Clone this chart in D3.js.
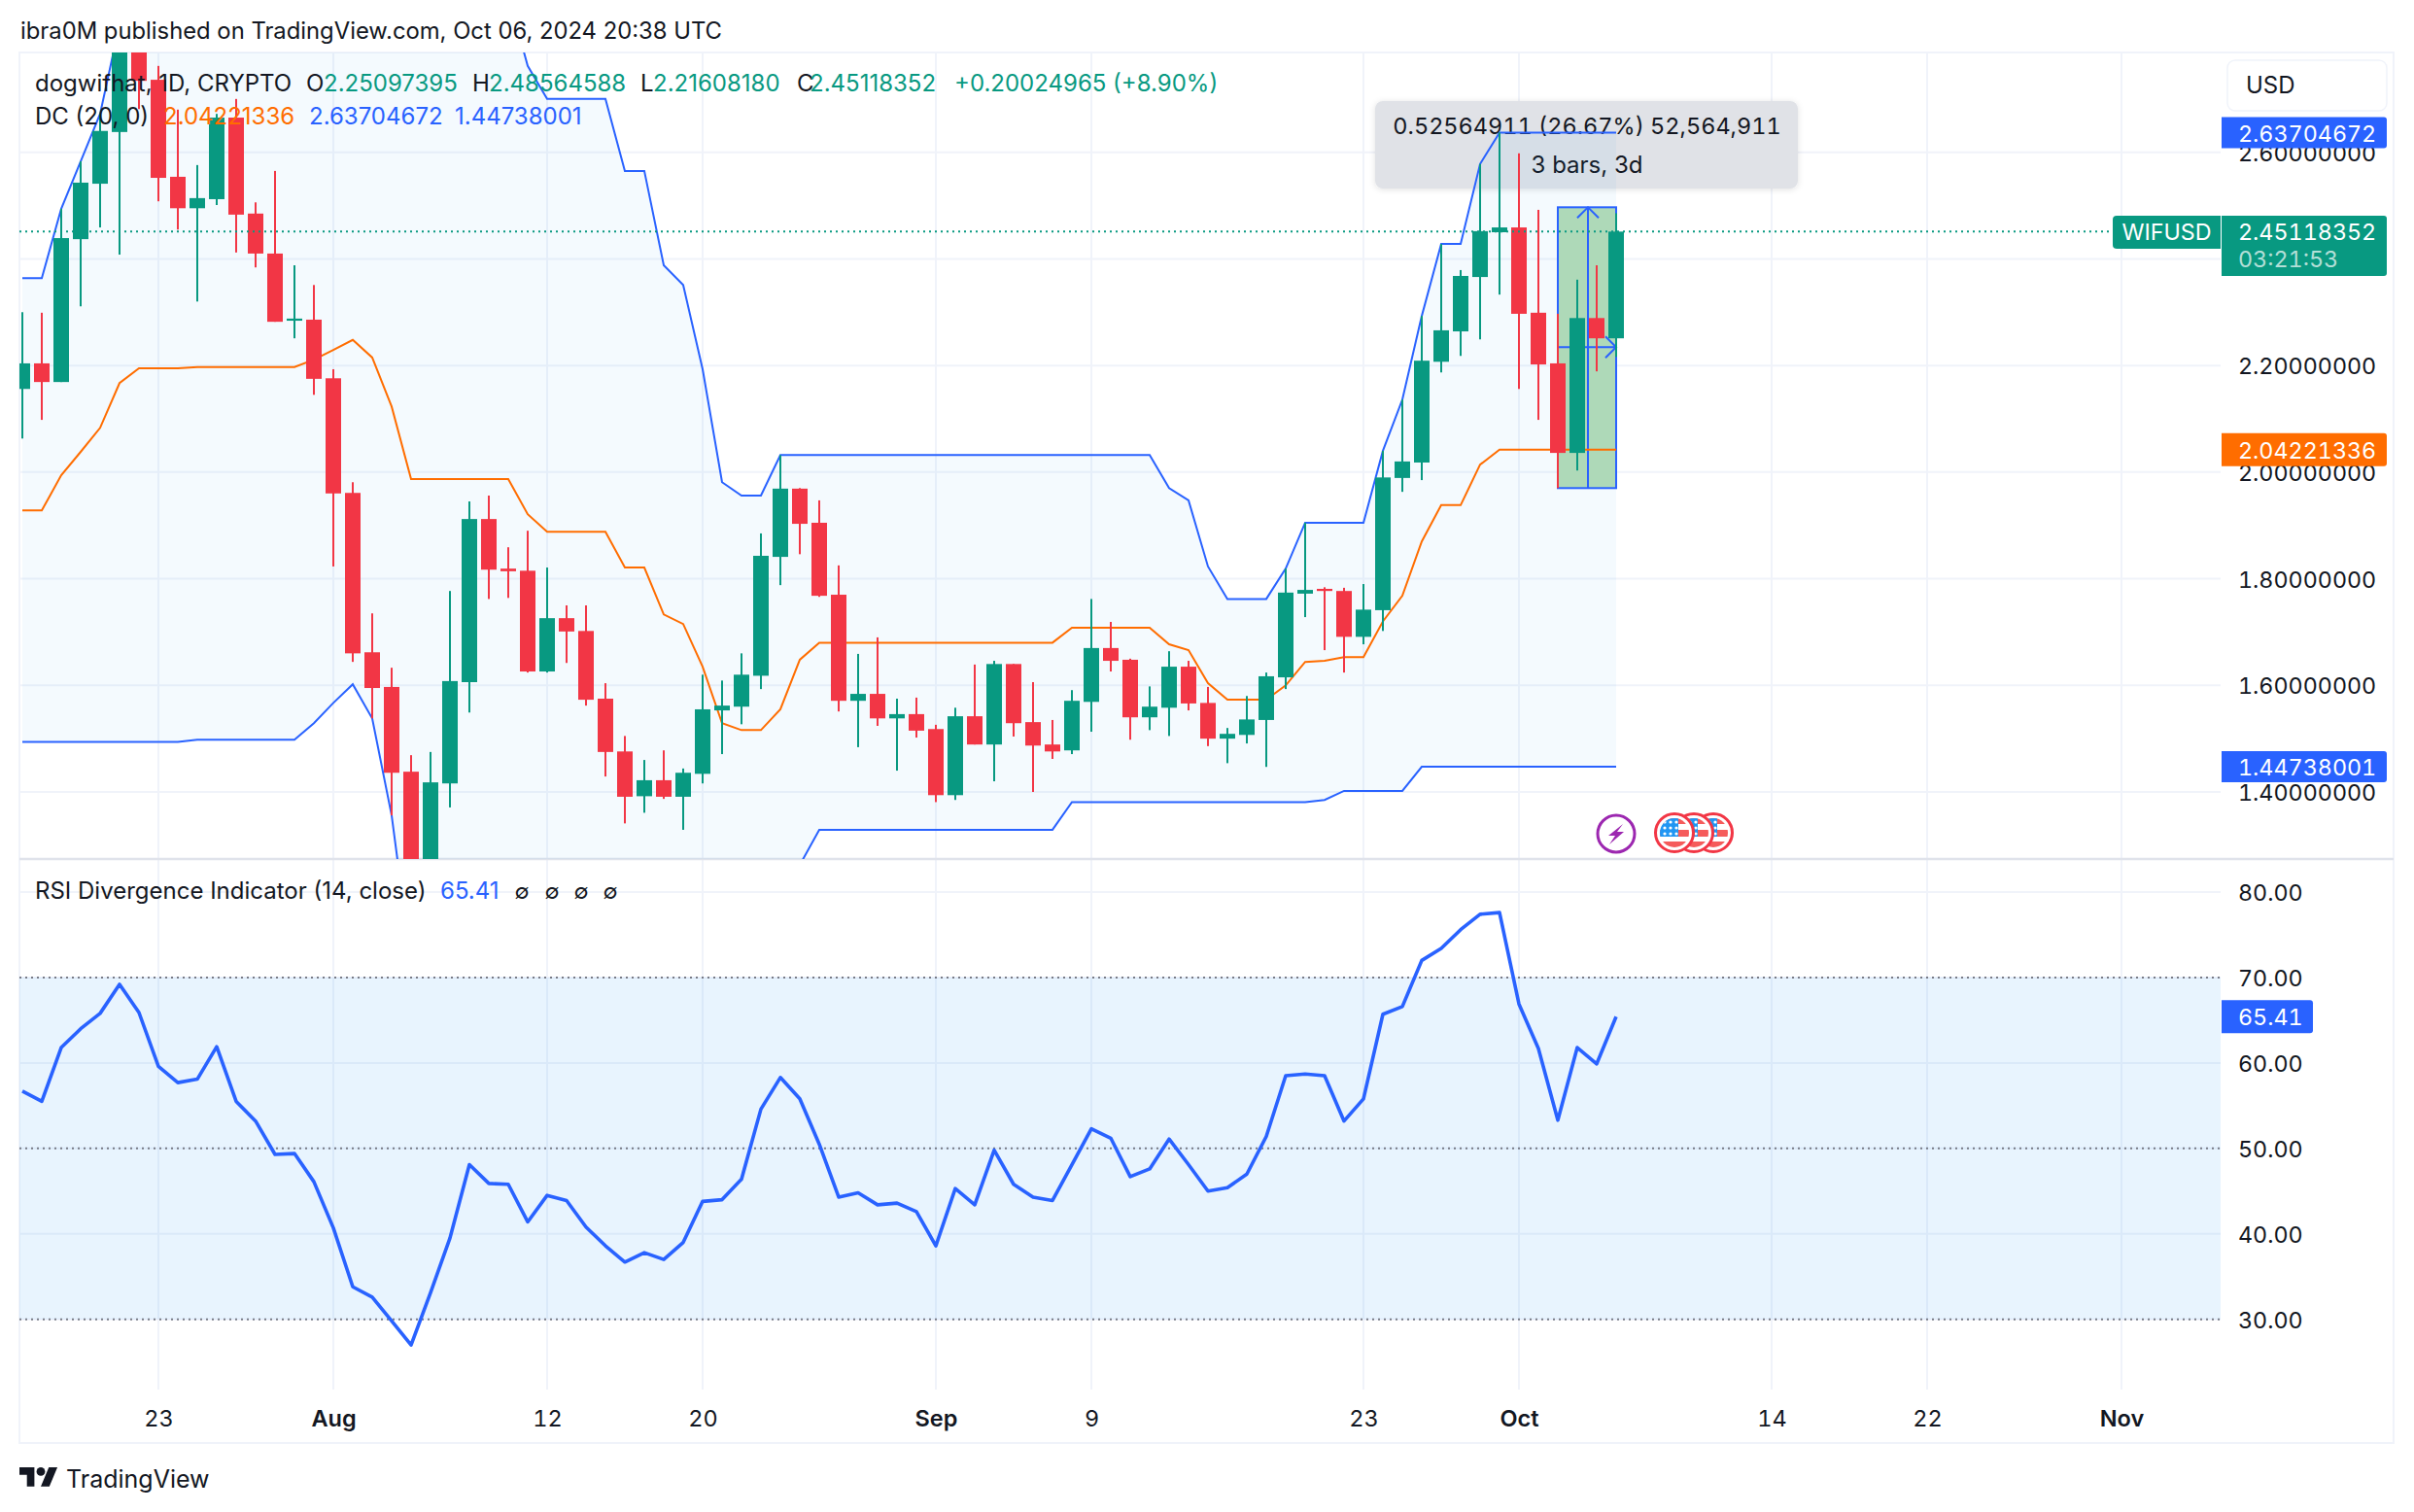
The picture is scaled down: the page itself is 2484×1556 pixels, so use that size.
<!DOCTYPE html>
<html>
<head>
<meta charset="utf-8">
<title>WIFUSD</title>
<script src="https://cdnjs.cloudflare.com/ajax/libs/d3/7.8.5/d3.min.js"></script>
<style>
  html, body { margin: 0; padding: 0; background: #fff; }
  svg { display: block; }
  text { font-family: Inter, "Noto Sans", sans-serif; fill: #131722; }
  .tnum { font-variant-numeric: tabular-nums; }
</style>
</head>
<body>
<svg id="chart"></svg>
<script>
// daily candles, 16 Jul 2024 -> 6 Oct 2024
const open = [2.156,2.204,2.169,2.437,2.541,2.638,2.831,2.736,2.554,2.495,2.512,2.665,2.485,2.410,2.284,2.286,2.176,1.961,1.662,1.597,1.438,1.270,1.416,1.606,1.912,1.819,1.815,1.626,1.726,1.702,1.575,1.476,1.392,1.422,1.391,1.434,1.553,1.560,1.618,1.841,1.969,1.905,1.770,1.571,1.584,1.538,1.546,1.518,1.394,1.542,1.489,1.640,1.531,1.489,1.478,1.569,1.670,1.648,1.540,1.558,1.635,1.567,1.500,1.507,1.535,1.615,1.772,1.781,1.777,1.691,1.741,1.989,2.018,2.207,2.264,2.366,2.450,2.459,2.299,2.204,2.036,2.289,2.25097395]
const high = [2.300,2.299,2.494,2.583,2.672,2.840,2.895,2.762,2.680,2.576,2.672,2.700,2.506,2.565,2.388,2.351,2.193,1.981,1.735,1.633,1.469,1.475,1.777,1.945,1.956,1.859,1.890,1.821,1.750,1.750,1.604,1.505,1.460,1.478,1.444,1.620,1.609,1.660,1.885,2.032,1.970,1.947,1.825,1.659,1.690,1.575,1.577,1.526,1.558,1.639,1.646,1.640,1.606,1.535,1.591,1.762,1.719,1.650,1.598,1.664,1.646,1.597,1.520,1.580,1.624,1.819,1.905,1.784,1.783,1.790,2.040,2.136,2.293,2.428,2.379,2.578,2.637,2.598,2.492,2.297,2.361,2.388,2.48564588]
const low = [2.063,2.098,2.169,2.311,2.459,2.408,2.681,2.508,2.455,2.320,2.501,2.412,2.384,2.282,2.251,2.145,1.823,1.644,1.538,1.356,1.079,1.263,1.371,1.549,1.762,1.764,1.624,1.624,1.642,1.562,1.429,1.341,1.361,1.387,1.329,1.416,1.471,1.527,1.593,1.788,1.846,1.766,1.551,1.484,1.524,1.440,1.502,1.381,1.385,1.489,1.420,1.504,1.400,1.462,1.471,1.513,1.626,1.498,1.516,1.505,1.553,1.486,1.454,1.491,1.447,1.593,1.728,1.666,1.624,1.677,1.702,1.963,1.985,2.187,2.218,2.249,2.333,2.156,2.098,1.970,2.003,2.189,2.2160818]
const close = [2.204,2.169,2.439,2.543,2.640,2.831,2.734,2.552,2.495,2.514,2.665,2.483,2.410,2.282,2.288,2.175,1.960,1.660,1.595,1.436,1.270,1.418,1.608,1.912,1.817,1.814,1.626,1.726,1.701,1.573,1.475,1.391,1.422,1.391,1.436,1.555,1.562,1.620,1.843,1.969,1.903,1.768,1.571,1.584,1.538,1.546,1.515,1.394,1.542,1.489,1.640,1.529,1.487,1.476,1.571,1.670,1.646,1.540,1.560,1.635,1.566,1.500,1.509,1.536,1.617,1.774,1.779,1.777,1.691,1.742,1.990,2.020,2.209,2.266,2.368,2.452,2.459,2.297,2.202,2.036,2.289,2.25097395,2.45118352]

// donchian channel, same length as the candles
const dcUpper = [2.364,2.364,2.494,2.583,2.672,2.840,2.895,2.895,2.895,2.895,2.895,2.895,2.895,2.895,2.895,2.895,2.895,2.895,2.895,2.895,2.895,2.895,2.895,2.895,2.895,2.895,2.762,2.700,2.700,2.700,2.700,2.565,2.565,2.388,2.351,2.193,1.981,1.956,1.956,2.032,2.032,2.032,2.032,2.032,2.032,2.032,2.032,2.032,2.032,2.032,2.032,2.032,2.032,2.032,2.032,2.032,2.032,2.032,2.032,1.970,1.947,1.823,1.762,1.762,1.762,1.819,1.905,1.905,1.905,1.905,2.040,2.136,2.293,2.428,2.428,2.578,2.63704672,2.63704672,2.63704672,2.63704672,2.63704672,2.63704672,2.63704672]
const dcLower = [1.494,1.494,1.494,1.494,1.494,1.494,1.494,1.494,1.494,1.498,1.498,1.498,1.498,1.498,1.498,1.529,1.567,1.602,1.538,1.356,1.079,1.079,1.079,1.079,1.079,1.079,1.079,1.079,1.079,1.079,1.079,1.079,1.079,1.079,1.079,1.079,1.079,1.079,1.079,1.079,1.263,1.329,1.329,1.329,1.329,1.329,1.329,1.329,1.329,1.329,1.329,1.329,1.329,1.329,1.381,1.381,1.381,1.381,1.381,1.381,1.381,1.381,1.381,1.381,1.381,1.381,1.381,1.385,1.402,1.402,1.402,1.402,1.44738001,1.44738001,1.44738001,1.44738001,1.44738001,1.44738001,1.44738001,1.44738001,1.44738001,1.44738001,1.44738001]
const dcBasis = [1.928,1.928,1.994,2.038,2.083,2.167,2.195,2.195,2.195,2.197,2.197,2.197,2.197,2.197,2.197,2.211,2.229,2.248,2.215,2.123,1.987,1.987,1.987,1.987,1.987,1.987,1.921,1.888,1.888,1.888,1.888,1.821,1.821,1.733,1.715,1.635,1.529,1.516,1.516,1.555,1.648,1.680,1.680,1.680,1.680,1.680,1.680,1.680,1.680,1.680,1.680,1.680,1.680,1.680,1.708,1.708,1.708,1.708,1.708,1.677,1.666,1.604,1.573,1.573,1.573,1.600,1.644,1.646,1.653,1.653,1.720,1.768,1.870,1.938,1.938,2.014,2.04221336,2.04221336,2.04221336,2.04221336,2.04221336,2.04221336,2.04221336]

const rsi = [56.7,55.5,61.8,64.0,65.8,69.2,65.9,59.6,57.7,58.1,61.9,55.5,53.2,49.3,49.4,46.1,40.7,33.8,32.6,29.8,27.0,33.1,39.5,48.1,45.9,45.8,41.4,44.5,43.9,40.8,38.6,36.7,37.8,37.0,39.0,43.8,44.0,46.4,54.6,58.3,55.8,50.5,44.3,44.8,43.4,43.6,42.6,38.6,45.3,43.4,49.8,45.8,44.3,43.9,48.1,52.3,51.2,46.7,47.6,51.1,48.1,45.0,45.4,47.0,51.4,58.5,58.7,58.5,53.2,55.8,65.7,66.6,72.0,73.4,75.6,77.4,77.6,66.9,61.7,53.3,61.8,59.9,65.41]

const priceGrid = [1.4,1.6,1.8,2.0,2.2,2.4,2.6]
const priceLabels = [1.4,1.6,1.8,2.0,2.2,2.6]   // 2.4 sits under the last price tag
const rsiTicks = [30,40,50,60,70,80]
const rsiDotted = [30,50,70]
const timeTicks = ['2024-07-23','2024-08-01','2024-08-12','2024-08-20','2024-09-01','2024-09-09','2024-09-23','2024-10-01','2024-10-14','2024-10-22','2024-11-01'].map(d => new Date(d))
const lastPrice = 2.45118352
const measureFrom = '2024-10-03', measureTo = '2024-10-06'
const measureTop = 2.4968, measureBottom = 1.970, measureMid = 2.2345

const GREEN = '#089981', RED = '#f23645', BLUE = '#2962ff', ORANGE = '#ff6d00', GRID = '#f0f3fa'

const width = 2484, height = 1556
const left = 20, right = 2285, outer = 2463
const mainTop = 54, mainBottom = 884, rsiBottom = 1430, frameBottom = 1485
const scaleFont = '23.3px'

const svg = d3.select('#chart').attr('width', width).attr('height', height)
const defs = svg.append('defs')
defs.append('clipPath').attr('id', 'mainClip').append('rect')
  .attr('x', left).attr('y', mainTop).attr('width', right - left).attr('height', mainBottom - mainTop)
defs.append('clipPath').attr('id', 'rsiClip').append('rect')
  .attr('x', left).attr('y', mainBottom).attr('width', right - left).attr('height', rsiBottom - mainBottom)
const shadow = defs.append('filter').attr('id', 'soft').attr('x', '-5%').attr('y', '-15%').attr('width', '110%').attr('height', '130%')
shadow.append('feDropShadow').attr('dx', 0).attr('dy', 1).attr('stdDeviation', 3).attr('flood-color', '#000').attr('flood-opacity', 0.12)

const day = 864e5
const startDate = new Date('2024-07-16')
const dates = close.map((c, i) => new Date(+startDate + i * day))

const x = d3.scaleUtc().domain([dates[0], dates[dates.length - 1]]).range([23, 1663])
const y = d3.scaleLinear().domain([1.4, 2.6]).range([815, 156.7])
const yRsi = d3.scaleLinear().domain([30, 80]).range([1357.7, 918])

// grid + frame
svg.append('g').selectAll('line').data(timeTicks).enter().append('line')
  .attr('x1', d => x(d)).attr('x2', d => x(d)).attr('y1', mainTop).attr('y2', rsiBottom)
  .attr('stroke', GRID).attr('stroke-width', 2)
svg.append('g').selectAll('line').data(priceGrid).enter().append('line')
  .attr('x1', left).attr('x2', right).attr('y1', d => y(d)).attr('y2', d => y(d))
  .attr('stroke', GRID).attr('stroke-width', 2)
svg.append('g').selectAll('line').data(rsiTicks).enter().append('line')
  .attr('x1', left).attr('x2', right).attr('y1', d => yRsi(d)).attr('y2', d => yRsi(d))
  .attr('stroke', GRID).attr('stroke-width', 2)

svg.append('rect').attr('x', left).attr('y', mainTop).attr('width', outer - left).attr('height', frameBottom - mainTop)
  .attr('fill', 'none').attr('stroke', GRID).attr('stroke-width', 2)
svg.append('line').attr('x1', left).attr('x2', outer).attr('y1', mainBottom).attr('y2', mainBottom)
  .attr('stroke', '#e0e3eb').attr('stroke-width', 2.5)

// measure tooltip sits under everything in the pane
const main = svg.append('g').attr('clip-path', 'url(#mainClip)')
main.append('rect').attr('x', 1415).attr('y', 104).attr('width', 435).attr('height', 90).attr('rx', 8)
  .attr('fill', '#e0e2e7').attr('filter', 'url(#soft)')
main.append('text').attr('class', 'tnum').attr('x', 1633).attr('y', 138).attr('text-anchor', 'middle')
  .style('font-size', '23.5px').text('0.52564911 (26.67%) 52,564,911')
main.append('text').attr('x', 1633).attr('y', 178).attr('text-anchor', 'middle')
  .style('font-size', '24px').text('3 bars, 3d')

// donchian
const area = d3.area().x((d, i) => x(dates[i])).y0((d, i) => y(dcLower[i])).y1((d, i) => y(dcUpper[i]))
main.append('path').datum(dcUpper).attr('d', area).attr('fill', '#2196f3').attr('fill-opacity', 0.05)

// measure box
const mx0 = x(new Date(measureFrom)), mx1 = x(new Date(measureTo)), mxm = (mx0 + mx1) / 2 + 1
main.append('rect').attr('x', mx0).attr('y', y(measureTop)).attr('width', mx1 - mx0).attr('height', y(measureBottom) - y(measureTop))
  .attr('fill', '#aed9b8').attr('stroke', BLUE).attr('stroke-width', 2)
main.append('path').attr('fill', 'none').attr('stroke', BLUE).attr('stroke-width', 2)
  .attr('d', `M${mxm},${y(measureBottom)}V${y(measureTop)}M${mxm - 11},${y(measureTop) + 11}L${mxm},${y(measureTop)}L${mxm + 11},${y(measureTop) + 11}`)
main.append('path').attr('fill', 'none').attr('stroke', BLUE).attr('stroke-width', 2)
  .attr('d', `M${mx0},${y(measureMid)}H${mx1}M${mx1 - 11},${y(measureMid) - 11}L${mx1},${y(measureMid)}L${mx1 - 11},${y(measureMid) + 11}`)

const line = d3.line().x((d, i) => x(dates[i])).y(d => y(d))
main.append('path').datum(dcUpper).attr('d', line).attr('fill', 'none').attr('stroke', BLUE).attr('stroke-width', 2)
main.append('path').datum(dcLower).attr('d', line).attr('fill', 'none').attr('stroke', BLUE).attr('stroke-width', 2)
main.append('path').datum(dcBasis).attr('d', line).attr('fill', 'none').attr('stroke', ORANGE).attr('stroke-width', 2)

// last price line
svg.append('line').attr('x1', left).attr('x2', 2174).attr('y1', y(lastPrice)).attr('y2', y(lastPrice))
  .attr('stroke', GREEN).attr('stroke-width', 2).attr('stroke-dasharray', '2 4')

// candles
const candles = close.map((c, i) => ({ date: dates[i], o: open[i], h: high[i], l: low[i], c: c }))
const candle = main.append('g').selectAll('g').data(candles).enter().append('g')
  .attr('fill', d => d.c >= d.o ? GREEN : RED)
candle.append('rect').attr('x', d => x(d.date) - 1).attr('width', 2)
  .attr('y', d => y(d.h)).attr('height', d => y(d.l) - y(d.h))
candle.append('rect').attr('x', d => x(d.date) - 8).attr('width', 16)
  .attr('y', d => y(Math.max(d.o, d.c))).attr('height', d => Math.abs(y(d.o) - y(d.c)))

// rsi pane
const rsiPane = svg.append('g').attr('clip-path', 'url(#rsiClip)')
rsiPane.append('rect').attr('x', left).attr('width', right - left)
  .attr('y', yRsi(70)).attr('height', yRsi(30) - yRsi(70))
  .attr('fill', '#2196f3').attr('fill-opacity', 0.1)
rsiPane.append('g').selectAll('line').data(rsiDotted).enter().append('line')
  .attr('x1', left).attr('x2', right).attr('y1', d => yRsi(d)).attr('y2', d => yRsi(d))
  .attr('stroke', '#787b86').attr('stroke-width', 2).attr('stroke-dasharray', '2 4')
const rsiLine = d3.line().x((d, i) => x(dates[i])).y(d => yRsi(d))
rsiPane.append('path').datum(rsi).attr('d', rsiLine).attr('fill', 'none')
  .attr('stroke', BLUE).attr('stroke-width', 3.6).attr('stroke-linejoin', 'round')

// axes
const priceAxis = d3.axisRight(y).tickValues(priceLabels).tickSize(0).tickPadding(0).tickFormat(d3.format('.8f'))
const gPrice = svg.append('g').attr('transform', 'translate(2303,1)').call(priceAxis)
const rsiAxis = d3.axisRight(yRsi).tickValues(rsiTicks).tickSize(0).tickPadding(0).tickFormat(d3.format('.2f'))
const gRsi = svg.append('g').attr('transform', 'translate(2303,1)').call(rsiAxis)
const timeAxis = d3.axisBottom(x).tickValues(timeTicks).tickSize(0).tickPadding(0)
  .tickFormat(d => d.getUTCDate() === 1 ? d3.utcFormat('%b')(d) : d3.utcFormat('%-d')(d))
const gTime = svg.append('g').attr('transform', 'translate(0,1460)').call(timeAxis)
for (const g of [gPrice, gRsi, gTime]) {
  g.select('.domain').remove()
  g.selectAll('text').attr('class', 'tnum').style('font-size', scaleFont).style('font-family', 'Inter').attr('fill', '#131722')
}
gTime.selectAll('text').attr('y', 0).attr('dy', '0.35em').style('font-size', '23.5px').style('font-weight', d => d.getUTCDate() === 1 ? 600 : 400)

// value tags on the scale
function tag(yPos, h, txt, color, boxRight) {
  svg.append('path').attr('fill', color)
    .attr('d', `M2286,${yPos - h / 2}H${boxRight - 3}a3,3 0 0 1 3,3V${yPos + h / 2 - 3}a3,3 0 0 1 -3,3H2286Z`)
  svg.append('text').attr('class', 'tnum').attr('x', 2303).attr('y', yPos + 1).attr('dy', '0.35em')
    .style('font-size', scaleFont).style('fill', '#fff').text(txt)
}
tag(y(dcUpper[82]), 32, '2.63704672', BLUE, 2456)
tag(y(dcBasis[82]), 34, '2.04221336', ORANGE, 2456)
tag(y(dcLower[82]), 32, '1.44738001', BLUE, 2456)
tag(yRsi(65.41), 34, '65.41', BLUE, 2380)

// last price tag is taller, holds the countdown
svg.append('path').attr('fill', GREEN).attr('d', 'M2286,222H2453a3,3 0 0 1 3,3V281a3,3 0 0 1 -3,3H2286Z')
svg.append('text').attr('class', 'tnum').attr('x', 2303).attr('y', y(lastPrice) + 1).attr('dy', '0.35em').style('font-size', scaleFont).style('fill', '#fff').text('2.45118352')
svg.append('text').attr('class', 'tnum').attr('x', 2303).attr('y', 267).attr('dy', '0.35em').style('font-size', scaleFont).style('fill', '#fff').style('fill-opacity', 0.7).text('03:21:53')
svg.append('path').attr('fill', GREEN).attr('d', 'M2285,222V256H2178a4,4 0 0 1 -4,-4V226a4,4 0 0 1 4,-4Z')
svg.append('text').attr('x', 2229.5).attr('y', y(lastPrice) + 1).attr('dy', '0.35em').attr('text-anchor', 'middle').style('font-size', scaleFont).style('fill', '#fff').text('WIFUSD')

// currency button
svg.append('rect').attr('x', 2292).attr('y', 62).attr('width', 164).attr('height', 52).attr('rx', 8)
  .attr('fill', '#fff').attr('stroke', GRID).attr('stroke-width', 1.5)
svg.append('text').attr('x', 2311).attr('y', 88).attr('dy', '0.35em').style('font-size', '24px').text('USD')

// top line
svg.append('text').attr('x', 21).attr('y', 32).attr('dy', '0.35em').style('font-size', '23.8px')
  .text('ibra0M published on TradingView.com, Oct 06, 2024 20:38 UTC')

// legends
const legend = [
  [36, 86, 'dogwifhat, 1D, CRYPTO', '#131722'],
  [315, 86, 'O', '#131722'], [333, 86, '2.25097395', GREEN],
  [486, 86, 'H', '#131722'], [503, 86, '2.48564588', GREEN],
  [659, 86, 'L', '#131722'], [672, 86, '2.21608180', GREEN],
  [820, 86, 'C', '#131722'], [833, 86, '2.45118352', GREEN],
  [982, 86, '+0.20024965 (+8.90%)', GREEN],
  [36, 120, 'DC (20, 0)', '#131722'],
  [168, 120, '2.04221336', ORANGE], [318, 120, '2.63704672', BLUE], [468, 120, '1.44738001', BLUE],
  [36, 917, 'RSI Divergence Indicator (14, close)', '#131722'], [453, 917, '65.41', BLUE]
]
svg.append('g').selectAll('text').data(legend).enter().append('text')
  .attr('x', d => d[0]).attr('y', d => d[1]).attr('dy', '0.35em')
  .style('font-size', '24px').style('fill', d => d[3]).text(d => d[2])
svg.append('g').selectAll('text').data([537, 568, 598, 628]).enter().append('text')
  .attr('x', d => d).attr('y', 917).attr('dy', '0.35em').attr('text-anchor', 'middle')
  .style('font-size', '22px').text('∅')

// event markers
const ev = svg.append('g')
ev.append('circle').attr('cx', 1663).attr('cy', 858).attr('r', 19).attr('fill', '#fff').attr('stroke', '#9c27b0').attr('stroke-width', 3)
ev.append('path').attr('fill', '#9c27b0').attr('d', 'M1670,848L1655,860H1662L1656,869L1671,856H1664Z')
const flagX = [1763, 1743, 1723]
flagX.forEach((cx, k) => {
  const id = 'flag' + k
  defs.append('clipPath').attr('id', id).append('circle').attr('cx', cx).attr('cy', 857).attr('r', 15)
  const g = ev.append('g')
  g.append('circle').attr('cx', cx).attr('cy', 857).attr('r', 19.5).attr('fill', '#fff').attr('stroke', RED).attr('stroke-width', 3)
  const inner = g.append('g').attr('clip-path', `url(#${id})`)
  inner.append('rect').attr('x', cx - 16).attr('y', 854).attr('width', 32).attr('height', 7).attr('fill', '#f55b5b')
  inner.append('rect').attr('x', cx - 16).attr('y', 866).attr('width', 32).attr('height', 7).attr('fill', '#f55b5b')
  inner.append('rect').attr('x', cx - 16).attr('y', 841).attr('width', 32).attr('height', 7).attr('fill', '#f55b5b')
  inner.append('rect').attr('x', cx - 16).attr('y', 841).attr('width', 20).attr('height', 20).attr('fill', '#2196f3')
  for (let r = 0; r < 3; r++) for (let c = 0; c < 3; c++) {
    inner.append('circle').attr('cx', cx - 10 + c * 6).attr('cy', 846 + r * 6).attr('r', 1.6).attr('fill', '#fff')
  }
})

// footer logo
const logo = svg.append('g').attr('transform', 'translate(20,1505.6) scale(1.1)').attr('fill', '#131722')
logo.append('path').attr('d', 'M14 22H7V11H0V4h14v18zM28 22h-8l7.5-18h8L28 22z')
logo.append('circle').attr('cx', 20).attr('cy', 8).attr('r', 4)
svg.append('text').attr('x', 68).attr('y', 1522).attr('dy', '0.35em').style('font-size', '25px').text('TradingView')
</script>
</body>
</html>
